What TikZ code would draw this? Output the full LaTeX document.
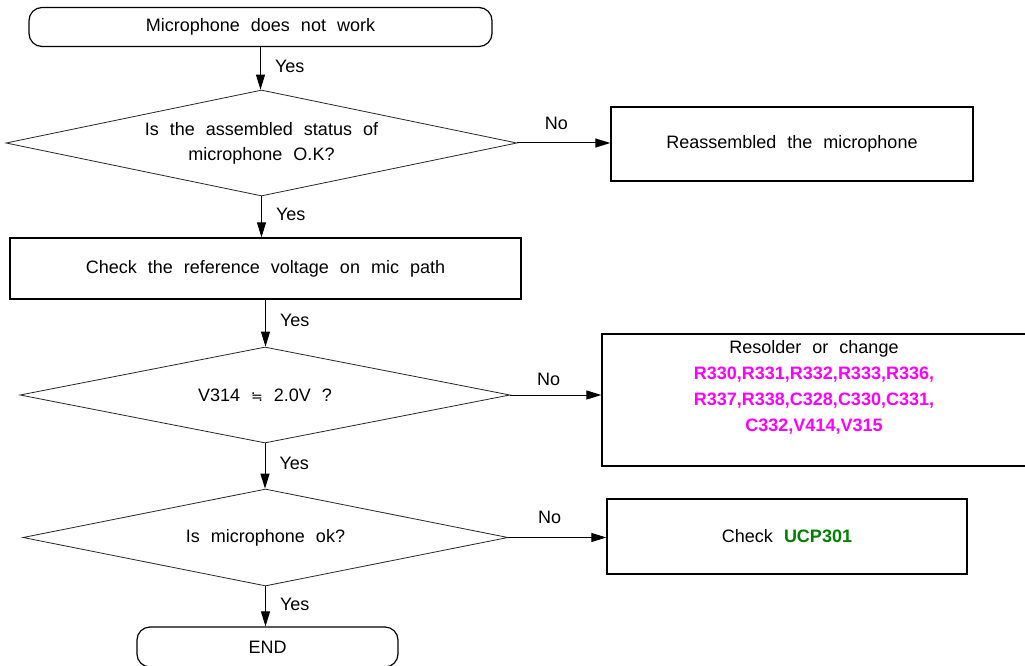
\documentclass[tikz,border=0pt]{standalone}
\usepackage{fontspec}
\setmainfont{Liberation Sans}[WordSpace=2.2]
\newfontfamily\symfont{DejaVu Sans}
\usepackage{xcolor}
\usetikzlibrary{arrows.meta}
\usetikzlibrary{positioning}
\usetikzlibrary{shapes.geometric}
\definecolor{partmagenta}{RGB}{255,0,255}
\definecolor{partgreen}{RGB}{0,128,0}

\begin{document}
\begin{tikzpicture}[x=1pt,y=-1pt,
        every node/.style={font=\fontsize{18}{25}\selectfont},
        termbox/.style={draw,line width=1.2pt,rounded corners=13pt,inner sep=0pt,minimum height=39pt},
        flowbox/.style={draw,line width=1.3pt,inner sep=0pt},
        decision/.style={draw,diamond,line width=0.8pt,draw=black!85,inner sep=0pt,shape aspect=4.8,align=center},
        flowarrow/.style={line width=1pt,-{Triangle[length=15pt,width=9pt]}},
        yeslabel/.style={pos=0.45,anchor=west,inner sep=0pt,xshift=14pt},
        nolabel/.style={pos=0.42,anchor=south,inner sep=0pt,yshift=13pt}]
        \newcommand{\figmicleftx}{265}
        \newcommand{\figmicrightx}{792}
        \useasboundingbox (0,0) rectangle (1025,666);
        % left column
        \node[termbox,minimum width=463pt] (start) at (260.5,27) {Microphone does not work};
        \node[decision,minimum width=511pt,minimum height=106pt] (asmq) at (261.5,143) {Is the assembled status of\\microphone O.K?};
        \node[flowbox,minimum width=511pt,minimum height=61pt] (refv) at (\figmicleftx.5,268.5) {Check the reference voltage on mic path};
        \node[decision,minimum width=490pt,minimum height=96pt] (voltq) at (\figmicleftx,395) {V314 {\symfont\fontsize{14}{14}\selectfont ≒} 2.0V ?};
        \node[decision,minimum width=485pt,minimum height=97pt] (micq) at (\figmicleftx.5,537.5) {Is microphone ok?};
        \node[termbox,minimum width=261pt,minimum height=40pt] (finish) at (267.5,647) {END};
        % right column
        \node[flowbox,minimum width=362pt,minimum height=74pt] (reasm) at (\figmicrightx,144) {Reassembled the microphone};
        \node[flowbox,minimum width=424pt,minimum height=132pt] (resold) at (814,400) {};
        \node[align=center,font=\fontsize{18}{26}\selectfont] (resoldtxt) at (814,387) {Resolder or change\\
            \textcolor{partmagenta}{\textbf{R330,R331,R332,R333,R336,}}\\
            \textcolor{partmagenta}{\textbf{R337,R338,C328,C330,C331,}}\\
            \textcolor{partmagenta}{\textbf{C332,V414,V315}}};
        \node[flowbox,minimum width=360pt,minimum height=75pt] (ucp) at (787,536.5) {Check \textcolor{partgreen}{\textbf{UCP301}}};
        % yes path
        \draw[flowarrow] (start.south) -- (start.south |- asmq.north) node[yeslabel] {Yes};
        \draw[flowarrow] (asmq.south) -- (asmq.south |- refv.north) node[yeslabel] {Yes};
        \draw[flowarrow] (refv.south) -- (refv.south |- voltq.north) node[yeslabel] {Yes};
        \draw[flowarrow] (voltq.south) -- (voltq.south |- micq.north) node[yeslabel] {Yes};
        \draw[flowarrow] (micq.south) -- (micq.south |- finish.north) node[yeslabel] {Yes};
        % no path
        \draw[flowarrow] (asmq.east) -- (asmq.east -| reasm.west) node[nolabel] {No};
        \draw[flowarrow] (voltq.east) -- (voltq.east -| resold.west) node[nolabel,yshift=-4pt] {No};
        \draw[flowarrow] (micq.east) -- (micq.east -| ucp.west) node[nolabel] {No};
        \end{tikzpicture}
\end{document}
